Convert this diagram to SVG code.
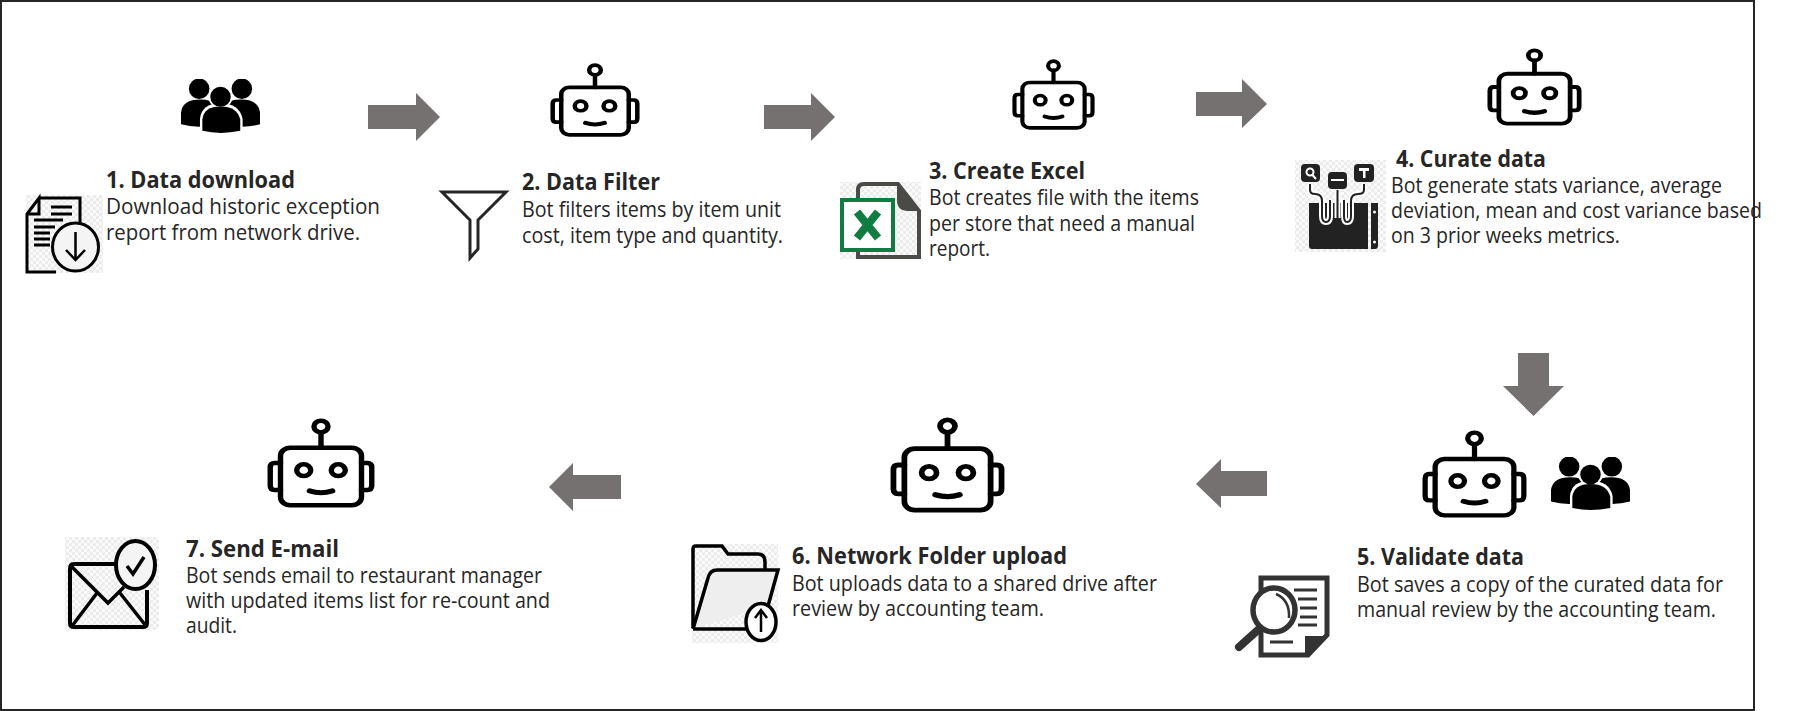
<svg xmlns="http://www.w3.org/2000/svg" xmlns:xlink="http://www.w3.org/1999/xlink" width="1793" height="711" viewBox="0 0 1793 711">
<style>
text{font-family:"Open Sans","Noto Sans","Liberation Sans",sans-serif;fill:#262626}
.t{font-size:23px;font-weight:700}
.b{font-size:21px}
.arrow{fill:#767171}
.bg{fill:url(#chk)}
</style>
<defs>
<pattern id="chk" width="6" height="6" patternUnits="userSpaceOnUse"><rect width="6" height="6" fill="#fafafa"/><rect width="3" height="3" fill="#ececec"/><rect x="3" y="3" width="3" height="3" fill="#ececec"/></pattern>
<symbol id="robot" viewBox="0 0 100 100" preserveAspectRatio="none">
<g fill="none" stroke="#000" stroke-width="5" stroke-linejoin="round" stroke-linecap="round">
<circle cx="50" cy="9.500" r="6.500"/>
<path d="M50 16V33"/>
<rect x="12.500" y="33" width="75" height="64" rx="9" ry="9"/>
<path d="M12.500 50H7Q3 50 3 55V75Q3 80 7 80H12.500M87.500 50H93Q97 50 97 55V75Q97 80 93 80H87.500"/>
<circle cx="34" cy="58" r="6.500"/>
<circle cx="66" cy="58" r="6.500"/>
<path d="M39.500 81Q50 85 60.500 81" stroke-width="5.500"/>
</g>
</symbol>
<symbol id="people" viewBox="0 0 100 100" preserveAspectRatio="none">
<ellipse cx="23" cy="18" rx="13" ry="19"/>
<ellipse cx="77" cy="18" rx="13" ry="19"/>
<path d="M0 84V62Q2 38 24 38Q38 38 45 48H55Q62 38 76 38Q98 38 100 62V84Q85 90 70 88H30Q15 90 0 84Z"/>
<ellipse cx="50" cy="33" rx="15.500" ry="21" fill="#fff"/>
<path d="M24 100V74Q26 45 50 45Q74 45 78 74V100Z" fill="#fff"/>
<ellipse cx="50" cy="33" rx="13" ry="18.500"/>
<path d="M27 96V75Q29 51 50 51Q71 51 75 75V96Q50 104 27 96Z"/>
</symbol>
</defs>
<rect x="1" y="1" width="1753" height="709" fill="#fff" stroke="#262626" stroke-width="2"/>

<g id="connectors">
<polygon class="arrow" points="368,105 416,105 416,93 440,117 416,141 416,129 368,129"/>
<polygon class="arrow" points="764,105 811,105 811,93 835,117 811,141 811,129 764,129"/>
<polygon class="arrow" points="1196,92 1242,92 1242,79 1267,104 1242,128 1242,116 1196,116"/>
<polygon class="arrow" points="1518,353 1549,353 1549,386 1564,386 1533.500,416 1503,386 1518,386"/>
<polygon class="arrow" points="1267,471 1221,471 1221,459 1196,484 1221,508 1221,496 1267,496"/>
<polygon class="arrow" points="621,475 573,475 573,463 549,487 573,511 573,499 621,499"/>
</g>

<g id="node-1">
<use href="#people" x="181" y="79" width="79" height="54"/>
<rect class="bg" x="26" y="195" width="77" height="78"/>
<path d="M39 198H80V224M56 272H27V214L39 198V214H27" fill="none" stroke="#000" stroke-width="3"/>
<path d="M51 207H72M51 214H72M34 220H63M34 227H55M34 233H50M34 239H50M34 245H50" stroke="#000" stroke-width="3" fill="none"/>
<ellipse cx="75.500" cy="247" rx="23" ry="24" fill="#f4f4f4" stroke="#000" stroke-width="3"/>
<path d="M75.500 232V259M66 250L75.500 260L85 250" fill="none" stroke="#000" stroke-width="2.500"/>
<text class="t" x="106" y="188" textLength="189" lengthAdjust="spacingAndGlyphs">1. Data download</text>
<text class="b" x="106" y="214" textLength="274" lengthAdjust="spacingAndGlyphs">Download historic exception</text>
<text class="b" x="106" y="240" textLength="254" lengthAdjust="spacingAndGlyphs">report from network drive.</text>
</g>

<g id="node-2">
<use href="#robot" x="550" y="63" width="90" height="74"/>
<path d="M442 192H506L478 220V249L470 258V220Z" fill="#fff" stroke="#262626" stroke-width="3"/>
<text class="t" x="522" y="190" textLength="138" lengthAdjust="spacingAndGlyphs">2. Data Filter</text>
<text class="b" x="522" y="217" textLength="259" lengthAdjust="spacingAndGlyphs">Bot filters items by item unit</text>
<text class="b" x="522" y="243" textLength="261" lengthAdjust="spacingAndGlyphs">cost, item type and quantity.</text>
</g>

<g id="node-3">
<use href="#robot" x="1012" y="59" width="83" height="71"/>
<rect class="bg" x="840" y="182" width="81" height="77"/>
<path d="M858 259V190Q858 184 864 184H898L919 211V259" fill="none" stroke="#4a4a46" stroke-width="4"/>
<path d="M897 183L920 211H908Q897 211 897 200Z" fill="#4a4a46"/>
<path d="M858 257H919" stroke="#4a4a46" stroke-width="4"/>
<rect x="842" y="200" width="51" height="50" fill="#fff" stroke="#107c41" stroke-width="4"/>
<path d="M857 212L878 238M878 212L857 238" stroke="#107c41" stroke-width="8" fill="none"/>
<text class="t" x="929" y="179" textLength="156" lengthAdjust="spacingAndGlyphs">3. Create Excel</text>
<text class="b" x="929" y="205" textLength="270" lengthAdjust="spacingAndGlyphs">Bot creates file with the items</text>
<text class="b" x="929" y="231" textLength="266" lengthAdjust="spacingAndGlyphs">per store that need a manual</text>
<text class="b" x="929" y="256" textLength="61" lengthAdjust="spacingAndGlyphs">report.</text>
</g>

<g id="node-4">
<use href="#robot" x="1487" y="48" width="95" height="78"/>
<rect class="bg" x="1295" y="160" width="91" height="92"/>
<rect x="1301" y="164" width="19" height="18" rx="4" fill="#222"/>
<rect x="1328" y="172" width="19" height="17" rx="4" fill="#222"/>
<rect x="1354" y="164" width="20" height="18" rx="4" fill="#222"/>
<circle cx="1310" cy="172" r="3.500" fill="none" stroke="#fff" stroke-width="2"/>
<path d="M1312.500 175L1316 179M1331 180H1344" stroke="#fff" stroke-width="2"/>
<path d="M1359 168H1369V171H1365.500V178H1363V171H1359Z" fill="#fff"/>
<path d="M1309 203H1368V249H1312Q1309 249 1309 246Z M1371 203H1378V246Q1378 249 1375 249H1371Z" fill="#222"/>
<path d="M1310 184V190Q1310 194 1315 194Q1322 194 1322 201V216Q1322 222 1326 222Q1330 222 1330 216V200M1337.500 190V218M1364 184V190Q1364 194 1358 194Q1351 194 1351 201V216Q1351 222 1347 222Q1344 222 1344 216V200" fill="none" stroke="#fff" stroke-width="6"/>
<path d="M1310 184V190Q1310 194 1315 194Q1322 194 1322 201V216Q1322 222 1326 222Q1330 222 1330 216V200M1337.500 190V218M1364 184V190Q1364 194 1358 194Q1351 194 1351 201V216Q1351 222 1347 222Q1344 222 1344 216V200" fill="none" stroke="#222" stroke-width="2"/>
<circle cx="1374.500" cy="212" r="1.500" fill="#fff"/><circle cx="1374.500" cy="242" r="1.500" fill="#fff"/>
<text class="t" x="1396" y="167" textLength="150" lengthAdjust="spacingAndGlyphs">4. Curate data</text>
<text class="b" x="1391" y="193" textLength="331" lengthAdjust="spacingAndGlyphs">Bot generate stats variance, average</text>
<text class="b" x="1391" y="218" textLength="371" lengthAdjust="spacingAndGlyphs">deviation, mean and cost variance based</text>
<text class="b" x="1391" y="243" textLength="229" lengthAdjust="spacingAndGlyphs">on 3 prior weeks metrics.</text>
</g>

<g id="node-5">
<use href="#robot" x="1422" y="430" width="105" height="88"/>
<use href="#people" x="1551" y="457" width="79" height="53"/>
<path d="M1261 578H1327V635L1308 655H1261Z" fill="#fff" stroke="#333" stroke-width="5"/>
<path d="M1305 655V636H1327Z" fill="#333"/>
<path d="M1294 590H1317M1298 599H1317M1300 608H1317M1300 617H1317M1298 625H1317M1270 642H1293" stroke="#333" stroke-width="3" fill="none"/>
<ellipse cx="1274" cy="610" rx="21" ry="22" fill="#fff" stroke="#333" stroke-width="5.500"/>
<path d="M1276 594Q1290 600 1289 618" fill="none" stroke="#333" stroke-width="2.500"/>
<path d="M1259 629L1239 647" stroke="#333" stroke-width="8" stroke-linecap="round"/>
<text class="t" x="1357" y="565" textLength="167" lengthAdjust="spacingAndGlyphs">5. Validate data</text>
<text class="b" x="1357" y="592" textLength="366" lengthAdjust="spacingAndGlyphs">Bot saves a copy of the curated data for</text>
<text class="b" x="1357" y="617" textLength="359" lengthAdjust="spacingAndGlyphs">manual review by the accounting team.</text>
</g>

<g id="node-6">
<use href="#robot" x="890" y="417" width="115" height="96"/>
<rect class="bg" x="692" y="544" width="86" height="99"/>
<path d="M693 628V549Q693 546 696 546H722L728 554H758Q765 554 765 562V570" fill="none" stroke="#000" stroke-width="3.500"/>
<path d="M693 629L708 578Q710 570 717 570H778L768 606" fill="#eee" stroke="#000" stroke-width="3.500"/>
<path d="M693 629H746" stroke="#000" stroke-width="3.500"/>
<ellipse cx="761" cy="622" rx="15" ry="18.500" fill="#fff" stroke="#000" stroke-width="3.500"/>
<path d="M761 632V611M755 618L761 610L767 618" fill="none" stroke="#000" stroke-width="2.500"/>
<text class="t" x="792" y="564" textLength="275" lengthAdjust="spacingAndGlyphs">6. Network Folder upload</text>
<text class="b" x="792" y="591" textLength="365" lengthAdjust="spacingAndGlyphs">Bot uploads data to a shared drive after</text>
<text class="b" x="792" y="616" textLength="252" lengthAdjust="spacingAndGlyphs">review by accounting team.</text>
</g>

<g id="node-7">
<use href="#robot" x="267" y="418" width="108" height="90"/>
<rect class="bg" x="65" y="537" width="94" height="93"/>
<path d="M117 564H74Q70 564 70 569V623Q70 627 74 627H143Q147 627 147 623V590" fill="none" stroke="#000" stroke-width="4"/>
<path d="M71 566L108 603L124 587M72 626L97 593M146 626L120 593" fill="none" stroke="#000" stroke-width="3.500"/>
<ellipse cx="135.500" cy="565" rx="19.500" ry="24" fill="#f4f4f4" stroke="#000" stroke-width="4"/>
<path d="M127 566L133 574L144 557" fill="none" stroke="#000" stroke-width="3.500"/>
<text class="t" x="186" y="557" textLength="153" lengthAdjust="spacingAndGlyphs">7. Send E-mail</text>
<text class="b" x="186" y="583" textLength="356" lengthAdjust="spacingAndGlyphs">Bot sends email to restaurant manager</text>
<text class="b" x="186" y="608" textLength="364" lengthAdjust="spacingAndGlyphs">with updated items list for re-count and</text>
<text class="b" x="186" y="633" textLength="51" lengthAdjust="spacingAndGlyphs">audit.</text>
</g>
</svg>
